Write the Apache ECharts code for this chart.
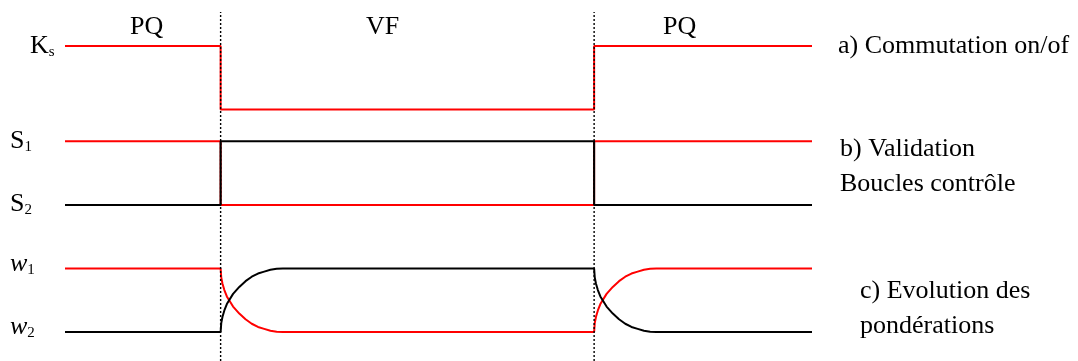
<!DOCTYPE html>
<html>
<head>
<meta charset="utf-8">
<script src="https://cdn.jsdelivr.net/npm/echarts@6/dist/echarts.min.js"></script>
<style>
  html, body { margin: 0; padding: 0; background: #fff; }
  #chart { width: 1078px; height: 361px; }
</style>
</head>
<body>
<div id="chart"></div>
<script>
// switching instants (time units) and signal levels
var switchTimes = [2.5, 8.5];
var yRange = [-0.456, 5.035];

// a) Ks on/off
var ksSignal = [[0, 4.5], [2.5, 4.5], [2.5, 3.5], [8.5, 3.5], [8.5, 4.5], [12, 4.5]];
// b) validation of control loops
var s1Signal = [[0, 3], [2.5, 3], [2.5, 2], [8.5, 2], [8.5, 3], [12, 3]];
var s2Signal = [[0, 2], [2.5, 2], [2.5, 3], [8.5, 3], [8.5, 2], [12, 2]];
// c) weights evolution
var w1Signal = [
  [0, 1], [2.5, 1], [2.51, 0.86], [2.53, 0.76], [2.56, 0.66], [2.6, 0.56], [2.7, 0.4],
  [2.8, 0.29], [2.9, 0.2], [3.0, 0.13], [3.1, 0.08], [3.2, 0.05], [3.3, 0.02], [3.4, 0.005],
  [3.5, 0], [8.5, 0], [8.51, 0.14], [8.53, 0.24], [8.56, 0.34], [8.6, 0.44], [8.7, 0.6],
  [8.8, 0.71], [8.9, 0.8], [9.0, 0.87], [9.1, 0.92], [9.2, 0.95], [9.3, 0.98], [9.4, 0.995],
  [9.5, 1], [12, 1]
];
var w2Signal = [
  [0, 0], [2.5, 0], [2.51, 0.14], [2.53, 0.24], [2.56, 0.34], [2.6, 0.44], [2.7, 0.6],
  [2.8, 0.71], [2.9, 0.8], [3.0, 0.87], [3.1, 0.92], [3.2, 0.95], [3.3, 0.98], [3.4, 0.995],
  [3.5, 1], [8.5, 1], [8.51, 0.86], [8.53, 0.76], [8.56, 0.66], [8.6, 0.56], [8.7, 0.4],
  [8.8, 0.29], [8.9, 0.2], [9.0, 0.13], [9.1, 0.08], [9.2, 0.05], [9.3, 0.02], [9.4, 0.005],
  [9.5, 0], [12, 0]
];

var FONT = 'Liberation Serif';
var RED = '#ff0000';

function sig(name, data, color, z) {
  return {
    name: name,
    type: 'line',
    data: data,
    symbol: 'none',
    clip: false,
    z: z,
    lineStyle: { color: color, width: 2 },
    animation: false
  };
}

function txt(x, y, text, size, rich) {
  return {
    type: 'text',
    x: x,
    y: y,
    style: {
      text: text,
      fill: '#000',
      font: size + 'px "' + FONT + '"',
      verticalAlign: 'middle',
      align: 'left',
      rich: rich
    }
  };
}

var subRich = {
  m: { fontFamily: FONT, fontSize: 26, color: '#000' },
  i: { fontFamily: FONT, fontSize: 26, fontStyle: 'italic', color: '#000' },
  s: { fontFamily: FONT, fontSize: 15, color: '#000', padding: [12, 0, 0, 0] }
};

var series = [
  sig('Ks', ksSignal, RED, 2),
  sig('S1', s1Signal, RED, 2),
  sig('S2', s2Signal, '#000', 3),
  sig('w1', w1Signal, RED, 2),
  sig('w2', w2Signal, '#000', 3)
];

switchTimes.forEach(function (t, i) {
  series.push({
    name: 'switch' + i,
    type: 'line',
    data: [[t, yRange[0]], [t, yRange[1]]],
    symbol: 'none',
    clip: false,
    z: 5,
    lineStyle: { color: '#000', width: 1.4, type: [2, 2] },
    animation: false
  });
});

var option = {
  animation: false,
  grid: { left: 65, right: 266, top: 12, bottom: 0 },
  xAxis: { type: 'value', min: 0, max: 12, show: false },
  yAxis: { type: 'value', min: yRange[0], max: yRange[1], show: false },
  series: series,
  graphic: [
    txt(130, 27, 'PQ', 26),
    txt(366, 27, 'VF', 26),
    txt(663, 27, 'PQ', 26),
    txt(30, 46, '{m|K}{s|s}', 26, subRich),
    txt(10, 141, '{m|S}{s|1}', 26, subRich),
    txt(10, 204, '{m|S}{s|2}', 26, subRich),
    txt(10, 264, '{i|w}{s|1}', 26, subRich),
    txt(10, 327, '{i|w}{s|2}', 26, subRich),
    txt(838, 46, 'a) Commutation on/of', 26),
    txt(840, 149, 'b) Validation', 26),
    txt(840, 184, 'Boucles contrôle', 26),
    txt(860, 291, 'c) Evolution des', 26),
    txt(860, 326, 'pondérations', 26)
  ]
};

var chart = echarts.init(document.getElementById('chart'));
chart.setOption(option);
</script>
</body>
</html>
